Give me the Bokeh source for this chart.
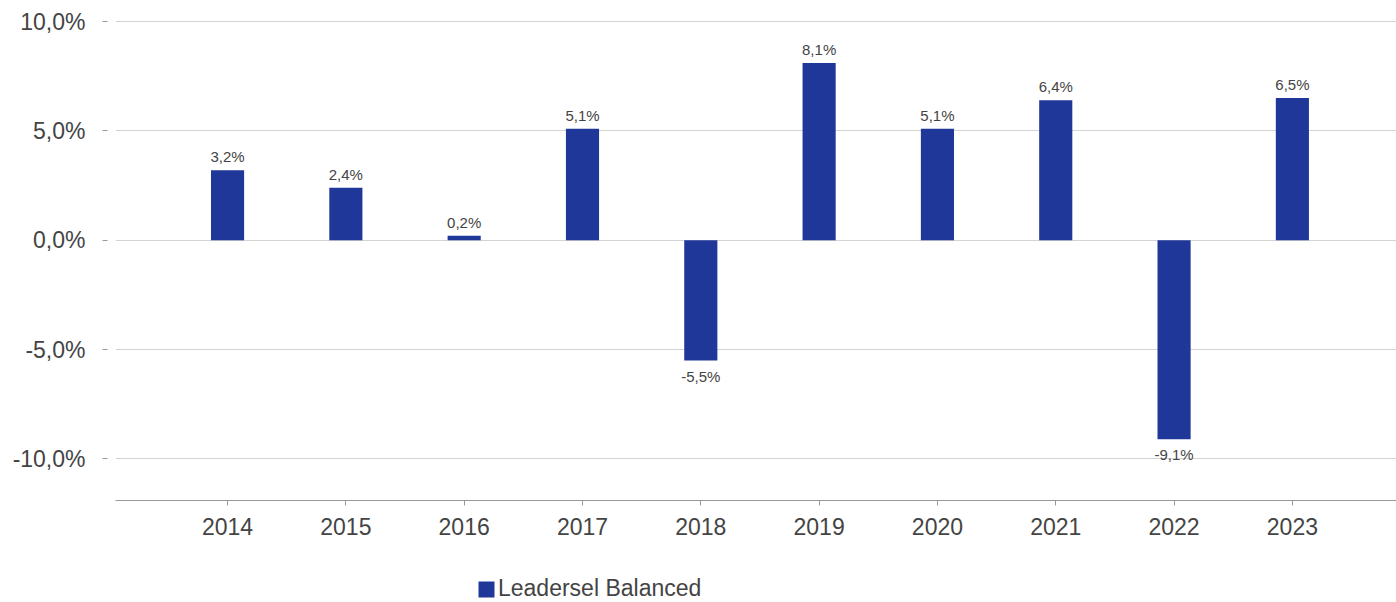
from bokeh.plotting import figure
from bokeh.layouts import column
from bokeh.models import ColumnDataSource, Range1d, FixedTicker, Legend, LegendItem
from bokeh.embed import file_html
from bokeh.resources import INLINE
from bokeh.core.properties import value

years = [2014, 2015, 2016, 2017, 2018, 2019, 2020, 2021, 2022, 2023]
returns = [3.2, 2.4, 0.2, 5.1, -5.5, 8.1, 5.1, 6.4, -9.1, 6.5]
series_name = "Leadersel Balanced"
yticks = [-10, -5, 0, 5, 10]
ytick_labels = ["-10,0%", "-5,0%", "0,0%", "5,0%", "10,0%"]

labels = [f"{v:.1f}%".replace(".", ",") for v in returns]

FONT = "Liberation Sans"
BAR = "#1e3799"
TXT = "#444444"

p = figure(width=1396, height=560, output_backend="svg", toolbar_location=None,
           x_range=Range1d(2013.053, 2023.88), y_range=Range1d(-11.9, 10.23),
           min_border_left=115, min_border_right=0, min_border_top=16, min_border_bottom=60)
p.outline_line_color = None
p.background_fill_color = "white"
p.border_fill_color = "white"

src = ColumnDataSource(dict(x=years, top=returns, label=labels))
r = p.vbar(x="x", top="top", bottom=0, width=0.28, source=src, fill_color=BAR, line_color=None)

pos = ColumnDataSource(dict(x=[x for x, v in zip(years, returns) if v >= 0],
                            y=[v for v in returns if v >= 0],
                            t=[l for l, v in zip(labels, returns) if v >= 0]))
neg = ColumnDataSource(dict(x=[x for x, v in zip(years, returns) if v < 0],
                            y=[v for v in returns if v < 0],
                            t=[l for l, v in zip(labels, returns) if v < 0]))
p.text(x="x", y="y", text="t", source=pos, text_align="center", text_baseline="bottom",
       y_offset=-5, text_font=value(FONT), text_font_size="15px", text_color=TXT)
p.text(x="x", y="y", text="t", source=neg, text_align="center", text_baseline="top",
       y_offset=7, text_font=value(FONT), text_font_size="15px", text_color=TXT)

# axes
p.xgrid.grid_line_color = None
p.ygrid.grid_line_color = "#d4d4d4"
p.ygrid.ticker = FixedTicker(ticks=yticks)

p.xaxis.ticker = FixedTicker(ticks=years)
p.xaxis.major_label_overrides = {y: str(y) for y in years}
p.xaxis.axis_line_color = "#999999"
p.xaxis.major_tick_line_color = "#999999"
p.xaxis.major_tick_out = 5
p.xaxis.major_tick_in = 0
p.xaxis.minor_tick_line_color = None
p.xaxis.major_label_standoff = 12
p.xaxis.major_label_text_font = FONT
p.xaxis.major_label_text_font_size = "23px"
p.xaxis.major_label_text_color = TXT

p.yaxis.ticker = FixedTicker(ticks=yticks)
p.yaxis.major_label_overrides = dict(zip(yticks, ytick_labels))
p.yaxis.axis_line_color = None
p.yaxis.major_tick_line_color = "#999999"
p.yaxis.major_tick_in = -8
p.yaxis.major_tick_out = 13
p.yaxis.minor_tick_line_color = None
p.yaxis.major_label_standoff = 17
p.yaxis.major_label_text_font = FONT
p.yaxis.major_label_text_font_size = "23px"
p.yaxis.major_label_text_color = TXT

# legend strip below the chart (same series, bars fall outside this strip's view)
lg = figure(width=1396, height=42, output_backend="svg", toolbar_location=None,
            x_axis_location=None, y_axis_location=None,
            x_range=Range1d(0, 1), y_range=Range1d(0, 1),
            min_border_left=0, min_border_right=0, min_border_top=0, min_border_bottom=0)
lg.outline_line_color = None
lg.grid.visible = False
lg.border_fill_color = "white"
lr = lg.vbar(x="x", top="top", bottom=0, width=0.28, source=src, fill_color=BAR, line_color=None)
legend = Legend(items=[LegendItem(label=series_name, renderers=[lr], index=0)],
                location=(361, 0), orientation="horizontal",
                padding=0, margin=0, spacing=0,
                glyph_width=20, glyph_height=20, label_standoff=2,
                label_text_font=FONT, label_text_font_size="23px", label_text_color=TXT,
                border_line_color=None, background_fill_alpha=0)
lg.add_layout(legend, "center")

layout = column(p, lg, spacing=0)
open("out.html", "w").write(file_html(layout, INLINE))
